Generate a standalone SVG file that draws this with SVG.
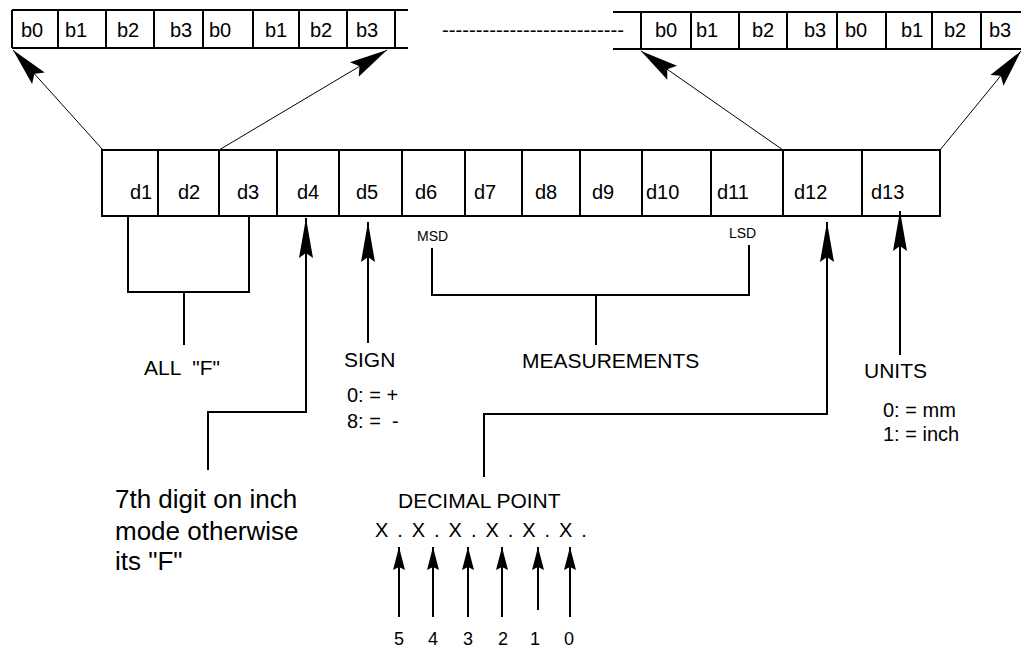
<svg xmlns="http://www.w3.org/2000/svg" width="1021" height="648" viewBox="0 0 1021 648">
<style>
text{font-family:"Liberation Sans",Arial,Helvetica,sans-serif;fill:#000}
.bl{font-size:20px}
.lb{font-size:21px}
.sm{font-size:14px}
.big{font-size:26px}
.num{font-size:18px;text-anchor:middle}
.pre{white-space:pre}
.cell{fill:#fff;stroke:#000;stroke-width:2}
.ln{fill:none;stroke:#000;stroke-width:2}
.thin{fill:none;stroke:#000;stroke-width:1}
</style>
<defs>
<marker id="bigHead" markerUnits="userSpaceOnUse" viewBox="-40 -10 42 20" markerWidth="42" markerHeight="20" refX="0" refY="0" orient="auto" overflow="visible">
<path d="M0,0 L-38,-8.5 L-32,0 L-38,8.5 Z" fill="#000"/>
</marker>
<marker id="midHead" markerUnits="userSpaceOnUse" viewBox="-42 -9 44 18" markerWidth="44" markerHeight="18" refX="0" refY="0" orient="auto" overflow="visible">
<path d="M0,0 L-40,-7 L-35,0 L-40,7 Z" fill="#000"/>
</marker>
<marker id="smallHead" markerUnits="userSpaceOnUse" viewBox="-25 -8 27 16" markerWidth="27" markerHeight="16" refX="0" refY="0" orient="auto" overflow="visible">
<path d="M0,0 L-23,-6 L-20,0 L-23,6 Z" fill="#000"/>
</marker>
</defs>

<rect width="1021" height="648" fill="#fff"/>

<!-- left bit register -->
<g id="bitsLeft">
<path class="ln" d="M12,10 H408 M12,48 H408 M12,10 V48 M58,10 V48 M106,10 V48 M154,10 V48 M203,10 V48 M253,10 V48 M299,10 V48 M347,10 V48 M395,10 V48"/>
<text class="bl" x="21" y="37">b0</text>
<text class="bl" x="65" y="37">b1</text>
<text class="bl" x="117" y="37">b2</text>
<text class="bl" x="170" y="37">b3</text>
<text class="bl" x="209" y="37">b0</text>
<text class="bl" x="265" y="37">b1</text>
<text class="bl" x="310" y="37">b2</text>
<text class="bl" x="356" y="37">b3</text>
</g>

<g id="ellipsis">
<text class="bl" x="442" y="37" textLength="182" lengthAdjust="spacingAndGlyphs">---------------------------</text>
</g>

<!-- right bit register -->
<g id="bitsRight">
<path class="ln" d="M613,12 H1021 M613,49 H1021 M641,12 V49 M691,12 V49 M739,12 V49 M787,12 V49 M837,12 V49 M886,12 V49 M932,12 V49 M981,12 V49"/>
<text class="bl" x="655" y="37">b0</text>
<text class="bl" x="696" y="37">b1</text>
<text class="bl" x="752" y="37">b2</text>
<text class="bl" x="804" y="37">b3</text>
<text class="bl" x="845" y="37">b0</text>
<text class="bl" x="901" y="37">b1</text>
<text class="bl" x="944" y="37">b2</text>
<text class="bl" x="989" y="37">b3</text>
</g>

<!-- digit row -->
<g id="digits">
<g id="d1"><rect class="cell" x="102" y="150" width="56" height="66"/><text class="bl" x="130" y="199">d1</text></g>
<g id="d2"><rect class="cell" x="158" y="150" width="61" height="66"/><text class="bl" x="178" y="199">d2</text></g>
<g id="d3"><rect class="cell" x="219" y="150" width="58" height="66"/><text class="bl" x="237" y="199">d3</text></g>
<g id="d4"><rect class="cell" x="277" y="150" width="62" height="66"/><text class="bl" x="297" y="199">d4</text></g>
<g id="d5"><rect class="cell" x="339" y="150" width="63" height="66"/><text class="bl" x="356" y="199">d5</text></g>
<g id="d6"><rect class="cell" x="402" y="150" width="63" height="66"/><text class="bl" x="415" y="199">d6</text></g>
<g id="d7"><rect class="cell" x="465" y="150" width="57" height="66"/><text class="bl" x="474" y="199">d7</text></g>
<g id="d8"><rect class="cell" x="522" y="150" width="58" height="66"/><text class="bl" x="535" y="199">d8</text></g>
<g id="d9"><rect class="cell" x="580" y="150" width="62" height="66"/><text class="bl" x="592" y="199">d9</text></g>
<g id="d10"><rect class="cell" x="642" y="150" width="69" height="66"/><text class="bl" x="646" y="199">d10</text></g>
<g id="d11"><rect class="cell" x="711" y="150" width="72" height="66"/><text class="bl" x="717" y="199">d11</text></g>
<g id="d12"><rect class="cell" x="783" y="150" width="79" height="66"/><text class="bl" x="794" y="199">d12</text></g>
<g id="d13"><rect class="cell" x="862" y="150" width="78" height="66"/><text class="bl" x="871" y="199">d13</text></g>
</g>

<!-- connectors -->
<g id="connectors">
<line class="thin" x1="103" y1="150" x2="13" y2="50" marker-end="url(#bigHead)"/>
<line class="thin" x1="219" y1="150" x2="387" y2="50" marker-end="url(#bigHead)"/>
<line class="thin" x1="783" y1="150" x2="641" y2="51" marker-end="url(#bigHead)"/>
<line class="thin" x1="940" y1="150" x2="1021" y2="51" marker-end="url(#bigHead)"/>

<path class="ln" d="M128,216 V292 H249 V216 M184,292 V345"/>
<path class="ln" d="M208,470 V412 H306 V218" marker-end="url(#midHead)"/>
<path class="ln" d="M368,343 V222" marker-end="url(#midHead)"/>
<path class="ln" d="M432,248 V295 H749 V245 M596,295 V345"/>
<path class="ln" d="M484,477 V414 H827 V222" marker-end="url(#midHead)"/>
<path class="ln" d="M900,355 V211" marker-end="url(#midHead)"/>

<path class="ln" d="M399,617 V547" marker-end="url(#smallHead)"/>
<path class="ln" d="M433,617 V547" marker-end="url(#smallHead)"/>
<path class="ln" d="M468,617 V547" marker-end="url(#smallHead)"/>
<path class="ln" d="M502,617 V547" marker-end="url(#smallHead)"/>
<path class="ln" d="M538,610 V547" marker-end="url(#smallHead)"/>
<path class="ln" d="M570,617 V547" marker-end="url(#smallHead)"/>
</g>

<!-- labels -->
<g id="msd"><text class="sm" x="417" y="241">MSD</text></g>
<g id="lsd"><text class="sm" x="729" y="238">LSD</text></g>
<g id="allF"><text class="lb pre" x="144" y="375">ALL  "F"</text></g>
<g id="sign">
<text class="lb" x="344" y="367">SIGN</text>
<text class="bl pre" x="347" y="402">0: = +</text>
<text class="bl pre" x="347" y="428">8: =  -</text>
</g>
<g id="measurements"><text class="lb" x="522" y="368">MEASUREMENTS</text></g>
<g id="units">
<text class="lb" x="864" y="378">UNITS</text>
<text class="bl pre" x="883" y="417">0: = mm</text>
<text class="bl pre" x="883" y="441">1: = inch</text>
</g>
<g id="note7th">
<text class="big" x="115" y="508">7th digit on inch</text>
<text class="big" x="115" y="540">mode otherwise</text>
<text class="big" x="115" y="570">its "F"</text>
</g>
<g id="decimalPoint">
<text class="lb" x="398" y="508">DECIMAL POINT</text>
<text class="bl pre" x="375" y="537" letter-spacing="1.7">X . X . X . X . X . X .</text>
<text class="num" x="399" y="645">5</text>
<text class="num" x="433" y="645">4</text>
<text class="num" x="468" y="645">3</text>
<text class="num" x="503" y="645">2</text>
<text class="num" x="535" y="645">1</text>
<text class="num" x="569" y="645">0</text>
</g>
</svg>
